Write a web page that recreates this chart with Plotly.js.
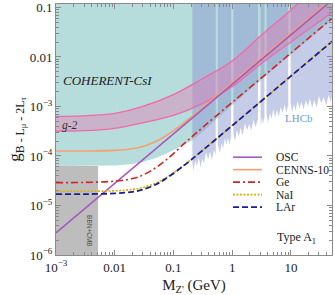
<!DOCTYPE html>
<html><head><meta charset="utf-8">
<script src="https://cdn.plot.ly/plotly-3.0.1.min.js"></script>
<style>html,body{margin:0;padding:0;background:#fff;} #chart{width:335px;height:295px;}</style>
</head><body><div id="chart"></div>
<script>
// ---- tick labels ----
const xTickVals = [0.001, 0.01, 0.1, 1, 10];
const xTickText = ['10<sup>−3</sup>', '0.01', '0.1', '1', '10'];
const yTickVals = [1e-6, 1e-5, 1e-4, 1e-3, 0.01, 0.1];
const yTickText = ['10<sup>−6</sup>', '10<sup>−5</sup>', '10<sup>−4</sup>', '10<sup>−3</sup>', '0.01', '0.1'];

// ---- COHERENT-CsI excluded region (lower boundary) ----
const cohMass = [0.001, 0.003, 0.01, 0.02, 0.03, 0.05, 0.07, 0.1, 0.15, 0.2, 0.3, 0.5, 0.7, 1, 2, 3, 5, 10, 20, 50];
const cohG = [6.31e-5, 6.31e-5, 6.46e-5, 6.92e-5, 7.59e-5, 9.12e-5, 1.07e-4, 1.32e-4, 1.66e-4, 2.0e-4, 2.95e-4, 5.13e-4, 7.41e-4, 1.07e-3, 2.19e-3, 3.31e-3, 5.62e-3, 0.0112, 0.0224, 0.0562];

// ---- BBN+CMB region ----
const bbnMass = [0.001, 0.0052];
const bbnG = 6.3e-5;

// ---- g-2 band ----
const g2Mass = [0.001, 0.003, 0.01, 0.03, 0.1, 0.3, 1, 3, 10, 50];
const g2Upper = [6.31e-4, 6.46e-4, 7.24e-4, 1.0e-3, 1.74e-3, 3.55e-3, 8.32e-3, 0.0263, 0.0891, 0.501];
const g2Lower = [3.16e-4, 3.24e-4, 3.63e-4, 4.68e-4, 6.61e-4, 1.12e-3, 2.51e-3, 7.08e-3, 0.02, 0.0794];

// ---- LHCb excluded region (lower boundary) and resonance gaps ----
const lhcbMass = [0.21, 0.22, 0.235, 0.25, 0.27, 0.29, 0.31, 0.33, 0.36, 0.39, 0.42, 0.45, 0.49, 0.52,
  0.58, 0.62, 0.66, 0.70, 0.75, 0.80, 0.85, 0.90, 0.95,
  1.07, 1.12, 1.2, 1.3, 1.4, 1.5, 1.65, 1.8, 1.95, 2.1, 2.3, 2.5, 2.7,
  3.1, 3.2, 3.35, 3.5,
  3.9, 4.1, 4.4, 4.7, 5.0, 5.4, 5.8, 6.2, 6.7, 7.2, 7.8, 8.4, 8.9,
  10.0, 10.5, 11.3, 12, 13, 14, 15, 16.5, 18, 19.5, 21, 23, 25, 27.5, 30, 33, 36, 40, 44, 48, 50];
const lhcbG = [7.1e-5, 5.1e-5, 8.1e-5, 6.3e-5, 9.3e-5, 5.9e-5, 8.9e-5, 7.1e-5, 1.17e-4, 8.5e-5, 1.23e-4, 8.3e-5, 1.32e-4, 1.1e-4,
  1.7e-4, 1.15e-4, 1.82e-4, 1.41e-4, 2.29e-4, 1.74e-4, 2.34e-4, 1.7e-4, 2.4e-4,
  2.69e-4, 2.04e-4, 3.31e-4, 2.51e-4, 3.72e-4, 2.57e-4, 4.57e-4, 3.31e-4, 4.47e-4, 3.24e-4, 5.25e-4, 3.8e-4, 5.25e-4,
  4.37e-4, 6.03e-4, 4.37e-4, 5.9e-4,
  7.08e-4, 4.68e-4, 7.41e-4, 5.62e-4, 8.91e-4, 6.03e-4, 8.71e-4, 6.17e-4, 9.77e-4, 7.41e-4, 1.1e-3, 7.59e-4, 1.02e-3,
  1.12e-3, 7.59e-4, 1.12e-3, 8.13e-4, 1.29e-3, 9.12e-4, 1.26e-3, 8.71e-4, 1.35e-3, 1.0e-3, 1.45e-3, 9.55e-4, 1.35e-3, 9.55e-4, 1.62e-3, 1.15e-3, 1.55e-3, 1.07e-3, 1.7e-3, 1.23e-3, 1.58e-3];
const gapLo = [0.525, 0.96, 2.75, 3.55, 9.0];
const gapHi = [0.57, 1.05, 3.05, 3.85, 9.9];

// ---- limit curves ----
const oscMass = [0.001, 0.01, 0.1, 1, 10, 50];
const oscG = [2.8e-6, 2.8e-5, 2.8e-4, 2.8e-3, 0.028, 0.14];
const cennsMass = [0.001, 0.003, 0.01, 0.02, 0.03, 0.05, 0.07, 0.1, 0.15, 0.2, 0.3, 0.5, 1, 3, 10, 50];
const cennsG = [1.26e-4, 1.26e-4, 1.30e-4, 1.40e-4, 1.55e-4, 1.96e-4, 2.45e-4, 3.25e-4, 4.67e-4, 6.13e-4, 9.08e-4, 1.51e-3, 3.0e-3, 9.0e-3, 0.030, 0.150];
const geMass = [0.001, 0.003, 0.01, 0.02, 0.03, 0.05, 0.07, 0.1, 0.15, 0.2, 0.3, 0.5, 1, 3, 10, 50];
const geG = [2.9e-5, 2.92e-5, 3.1e-5, 3.5e-5, 4.1e-5, 5.8e-5, 7.8e-5, 1.12e-4, 1.75e-4, 2.36e-4, 3.6e-4, 6.05e-4, 1.21e-3, 3.6e-3, 0.012, 0.06];
const naiMass = [0.001, 0.003, 0.01, 0.02, 0.03, 0.05, 0.07, 0.1, 0.15, 0.2, 0.3, 0.5, 1, 3, 10, 50];
const naiG = [1.94e-5, 1.94e-5, 1.98e-5, 2.11e-5, 2.30e-5, 2.83e-5, 3.48e-5, 4.56e-5, 6.48e-5, 8.48e-5, 1.25e-4, 2.08e-4, 4.13e-4, 1.24e-3, 4.13e-3, 0.0206];
const larMass = [0.001, 0.003, 0.01, 0.02, 0.03, 0.05, 0.07, 0.1, 0.15, 0.2, 0.3, 0.5, 1, 3, 10, 50];
const larG = [1.7e-5, 1.7e-5, 1.75e-5, 1.89e-5, 2.10e-5, 2.66e-5, 3.33e-5, 4.44e-5, 6.38e-5, 8.36e-5, 1.24e-4, 2.06e-4, 4.1e-4, 1.23e-3, 4.1e-3, 0.0205];

// legend entries
const legNames = ['OSC', 'CENNS-10', 'Ge', 'NaI', 'LAr'];

// ---- styles ----
const C = {
  teal: '#b6dcdb', gray: '#bdbdbd', lhcb: 'rgba(139,153,209,0.5)',
  g2fill: 'rgba(236,110,175,0.38)', g2line: '#f06aa8',
  osc: '#a95bbd', cenns: '#f5a070', ge: '#d42424', nai: '#dcae00', lar: '#1c1c96'
};
const lineStyles = [
  {color: C.osc, width: 1.6, dash: 'solid'},
  {color: C.cenns, width: 1.6, dash: 'solid'},
  {color: C.ge, width: 1.6, dash: '7px,3px,2px,3px'},
  {color: C.nai, width: 1.6, dash: '2px,1.5px'},
  {color: C.lar, width: 1.8, dash: '6px,3px'}
];

const TOP = 1, FLOOR = 1e-7;
const traces = [];

// COHERENT region polygon
traces.push({
  x: cohMass.concat([cohMass[cohMass.length - 1], cohMass[0]]),
  y: cohG.concat([TOP, TOP]),
  mode: 'lines', fill: 'toself', fillcolor: C.teal, line: {width: 0}, hoverinfo: 'skip', showlegend: false
});
// BBN+CMB
traces.push({
  x: [bbnMass[0], bbnMass[0], bbnMass[1], bbnMass[1]],
  y: [FLOOR, bbnG, bbnG, FLOOR],
  mode: 'lines', fill: 'toself', fillcolor: C.gray, line: {width: 0}, hoverinfo: 'skip', showlegend: false
});
// LHCb polygons split at the resonance gaps
(function () {
  const edges = [lhcbMass[0]];
  for (let i = 0; i < gapLo.length; i++) { edges.push(gapLo[i]); edges.push(gapHi[i]); }
  edges.push(lhcbMass[lhcbMass.length - 1]);
  const xs = [], ys = [];
  for (let s = 0; s < edges.length; s += 2) {
    const lo = edges[s], hi = edges[s + 1];
    const pts = [];
    for (let i = 0; i < lhcbMass.length; i++) if (lhcbMass[i] >= lo && lhcbMass[i] <= hi) pts.push(i);
    if (!pts.length) continue;
    xs.push(lo); ys.push(TOP);
    xs.push(hi); ys.push(TOP);
    xs.push(hi); ys.push(lhcbG[pts[pts.length - 1]]);
    for (let k = pts.length - 1; k >= 0; k--) { xs.push(lhcbMass[pts[k]]); ys.push(lhcbG[pts[k]]); }
    xs.push(lo); ys.push(lhcbG[pts[0]]);
    xs.push(null); ys.push(null);
  }
  traces.push({x: xs, y: ys, mode: 'lines', fill: 'toself', fillcolor: C.lhcb, line: {width: 0},
    hoverinfo: 'skip', showlegend: false, connectgaps: false});
})();
// g-2 band
traces.push({x: g2Mass, y: g2Lower, mode: 'lines', line: {color: C.g2line, width: 1.3, shape: 'spline'}, hoverinfo: 'skip', showlegend: false});
traces.push({x: g2Mass, y: g2Upper, mode: 'lines', fill: 'tonexty', fillcolor: C.g2fill,
  line: {color: C.g2line, width: 1.3, shape: 'spline'}, hoverinfo: 'skip', showlegend: false});

// curves
const curveData = [[oscMass, oscG], [cennsMass, cennsG], [geMass, geG], [naiMass, naiG], [larMass, larG]];
const drawOrder = [1, 0, 2, 3, 4];
drawOrder.forEach(i => {
  traces.push({x: curveData[i][0], y: curveData[i][1], mode: 'lines', name: legNames[i],
    line: Object.assign({shape: 'spline'}, lineStyles[i]), showlegend: false});
});

// ---- layout ----
function minorVals(k0, k1) {
  const v = [];
  for (let k = k0; k <= k1; k++) for (let m = 2; m <= 9; m++) v.push(m * Math.pow(10, k));
  return v;
}
const serif = 'Liberation Serif, Times New Roman, serif';
const axisCommon = {
  type: 'log', showgrid: false, zeroline: false, showline: true, linecolor: '#8a8a8a', linewidth: 1,
  mirror: 'allticks', ticks: 'inside', ticklen: 5, tickcolor: '#8a8a8a', tickwidth: 1,
  tickfont: {family: serif, size: 13, color: '#222'}, tickmode: 'array', ticklabeloverflow: 'allow'
};

// plot-area paper coordinates helper (in px of the 335x295 page)
const PL = 56, PR = 332, PT = 3.5, PB = 255;
const px = v => (v - PL) / (PR - PL);
const py = v => (PB - v) / (PB - PT);

const annotations = [
  {text: 'COHERENT-CsI', x: px(61), y: py(80), xanchor: 'left', yanchor: 'middle', font: {family: serif, size: 13, color: '#222', style: 'italic'}},
  {text: 'g-2', x: px(60), y: py(125), xanchor: 'left', yanchor: 'middle', font: {family: serif, size: 11.5, color: '#333', style: 'italic'}},
  {text: 'LHCb', x: px(299), y: py(118), xanchor: 'center', yanchor: 'middle', font: {family: serif, size: 11, color: '#6a9fd6'}},
  {text: 'BBN+CMB', x: px(90), y: py(231), xanchor: 'center', yanchor: 'middle', textangle: 90, font: {family: 'Liberation Sans, Arial, sans-serif', size: 6.5, color: '#555'}},
  {text: 'Type A<sub>1</sub>', x: px(275), y: py(238), xanchor: 'left', yanchor: 'middle', font: {family: serif, size: 12, color: '#222'}}
].map(a => Object.assign({xref: 'paper', yref: 'paper', showarrow: false}, a));

const shapes = [];
const legRows = [157, 169.5, 182, 194.5, 207];
legNames.forEach((n, i) => {
  shapes.push({type: 'line', xref: 'paper', yref: 'paper', x0: px(233), x1: px(262), y0: py(legRows[i]), y1: py(legRows[i]),
    line: {color: lineStyles[i].color, width: lineStyles[i].width, dash: lineStyles[i].dash}});
  annotations.push({xref: 'paper', yref: 'paper', showarrow: false, text: n, x: px(274), y: py(legRows[i]),
    xanchor: 'left', yanchor: 'middle', font: {family: serif, size: 11.5, color: '#222'}});
});

const layout = {
  width: 335, height: 295,
  margin: {l: PL, r: 335 - PR, t: PT, b: 295 - PB, pad: 0},
  paper_bgcolor: '#fff', plot_bgcolor: '#fff',
  showlegend: false,
  xaxis: Object.assign({}, axisCommon, {
    range: [-3, 1.7], tickvals: xTickVals, ticktext: xTickText,
    minor: {tickmode: 'array', tickvals: minorVals(-3, 1), ticks: 'inside', ticklen: 3, tickcolor: '#8a8a8a', showgrid: false},
    title: {text: "M<sub>Z'</sub> (GeV)", font: {family: serif, size: 15, color: '#222'}, standoff: 6}
  }),
  yaxis: Object.assign({}, axisCommon, {
    range: [-6, -0.93], tickvals: yTickVals, ticktext: yTickText,
    minor: {tickmode: 'array', tickvals: minorVals(-6, -1), ticks: 'inside', ticklen: 3, tickcolor: '#8a8a8a', showgrid: false},
    title: {text: 'g<sub>B - L<sub>μ</sub> - 2L<sub>τ</sub></sub>', font: {family: serif, size: 17, color: '#222'}, standoff: 4}
  }),
  annotations: annotations,
  shapes: shapes
};

Plotly.newPlot('chart', traces, layout, {displayModeBar: false, staticPlot: true});
</script></body></html>
